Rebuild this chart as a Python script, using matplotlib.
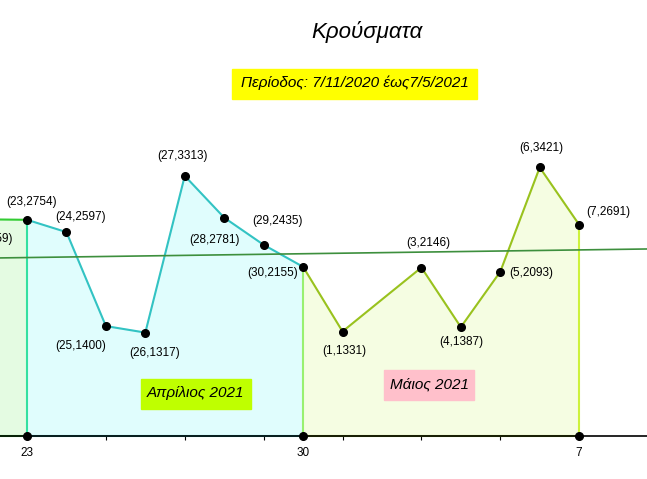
import matplotlib.pyplot as plt
from matplotlib.patches import Rectangle

# days: t = 0 is 23 April 2021
prev_t = [-1, 0]
prev_cases = [2759, 2754]
prev_labels = ["22"]

apr_t = [0, 1, 2, 3, 4, 5, 6, 7]
apr_days = [23, 24, 25, 26, 27, 28, 29, 30]
apr_cases = [2754, 2597, 1400, 1317, 3313, 2781, 2435, 2155]

may_t = [7, 8, 9, 10, 11, 12, 13, 14]
may_days = [30, 1, 2, 3, 4, 5, 6, 7]
may_cases = [2155, 1331, 1739, 2146, 1387, 2093, 3421, 2691]
may_shown = [False, True, False, True, True, True, True, True]  # day 2 has no dot

tick_pos = [0, 7, 14]
tick_labels = ["23", "30", "7"]

# trend line (regression over whole period)
trend_t0 = 2273
trend_slope = 6.95

W, H = 647, 479
fig = plt.figure(figsize=(W / 100, H / 100), dpi=100)
ax = fig.add_axes([0, 0, 1, 1])
ax.set_xlim(-0.685, 15.72)
ax.set_ylim(-548, 5554)
for s in ["left", "right", "top"]:
    ax.spines[s].set_visible(False)
ax.spines["bottom"].set_position(("data", 0))
ax.spines["bottom"].set_color("black")
ax.spines["bottom"].set_linewidth(1.2)
ax.set_yticks([])
ax.set_xticks(tick_pos)
ax.set_xticklabels(tick_labels, fontsize=8.5, family="Liberation Sans")
ax.set_xticks([2, 4, 6, 8, 10, 12], minor=True)
ax.tick_params(axis="x", which="both", length=3, width=0.8, direction="out", pad=5)
ax.patch.set_alpha(0)

def region(t, v, fill, edge, vert):
    xs = [t[0]] + list(t) + [t[-1]]
    ys = [0] + list(v) + [0]
    ax.fill(xs, ys, color=fill, zorder=1)
    ax.plot([t[0], t[-1]], [0, 0], color=edge, lw=1.5, zorder=2)
    ax.plot(t, v, color=edge, lw=1.5, zorder=3)
    ax.plot([t[-1], t[-1]], [0, v[-1]], color=vert, lw=1.5, zorder=3)

region(prev_t, prev_cases, "#e4fbe2", "#33cc33", "#33e0a0")
region(apr_t, apr_cases, "#e0fdfd", "#33c3c3", "#99f070")
region(may_t, may_cases, "#f5fde2", "#99c21e", "#cdf23c")

ax.plot([-1, 16], [trend_t0 - trend_slope, trend_t0 + 16 * trend_slope],
        color="#3d8f3d", lw=1.2, zorder=4)

lab_font = dict(fontsize=8.5, family="Liberation Sans", ha="center", va="center")

def label(t, day, v, dx, dy):
    ax.plot(t, v, "o", color="black", ms=5.5, zorder=6)
    ax.annotate("({},{})".format(day, v), (t, v), xytext=(dx, dy),
                textcoords="offset pixels", annotation_clip=False, **lab_font)

label(prev_t[0], prev_labels[0], prev_cases[0], 0, -20)
apr_off = [(5, 18), (14, 15), (-25, -20), (9, -20), (-2, 20), (-10, -22), (14, 24), (-30, -6)]
for t, d, v, o in zip(apr_t, apr_days, apr_cases, apr_off):
    label(t, d, v, *o)
may_off = [None, (2, -19), None, (7, 25), (0, -15), (31, -1), (2, 19), (29, 13)]
for t, d, v, o, sh in zip(may_t, may_days, may_cases, may_off, may_shown):
    if sh and o is not None:
        label(t, d, v, *o)

ax.plot(tick_pos, [0] * len(tick_pos), "o", color="black", ms=5.5, zorder=6, clip_on=False)

def box(x0, y0, x1, y1, color):
    fig.patches.append(Rectangle((x0 / W, 1 - y1 / H), (x1 - x0) / W, (y1 - y0) / H,
                                 transform=fig.transFigure, color=color, zorder=5))

def ftext(x, y, s, size):
    fig.text(x / W, 1 - y / H, s, fontsize=size, family="Liberation Sans",
             style="italic", ha="center", va="center", zorder=7)

ftext(367, 32, "Κρούσματα", 16)
box(232, 69, 477, 99, "#ffff00")
ftext(354.5, 83, "Περίοδος: 7/11/2020 έως7/5/2021", 11)
box(141, 379, 251, 409, "#bfff00")
ftext(196, 393, "Απρίλιος 2021", 11)
box(384, 370, 474, 400, "#ffc0cb")
ftext(429, 384, "Μάιος 2021", 11)

fig.savefig("out.png", dpi=100)
